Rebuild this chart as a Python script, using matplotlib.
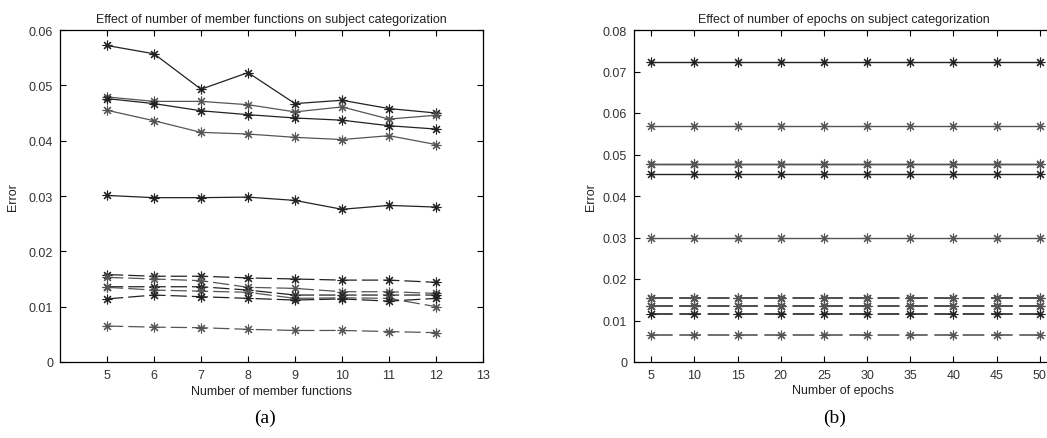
import matplotlib
matplotlib.use('Agg')
import matplotlib.pyplot as plt

plt.rcParams['font.family'] = ['Liberation Sans', 'DejaVu Sans']

# (a) number of member functions
mf_x = [5, 6, 7, 8, 9, 10, 11, 12]
mf_solid = [
  [0.0572, 0.0557, 0.0493, 0.0523, 0.0467, 0.0473, 0.0458, 0.0450],
  [0.0479, 0.0471, 0.0471, 0.0465, 0.0452, 0.0461, 0.0439, 0.0446],
  [0.0476, 0.0467, 0.0454, 0.0447, 0.0441, 0.0437, 0.0427, 0.0421],
  [0.0455, 0.0436, 0.0415, 0.0412, 0.0406, 0.0402, 0.0409, 0.0393],
  [0.0301, 0.0297, 0.0297, 0.0298, 0.0292, 0.0276, 0.0283, 0.0280],
]
mf_dashed = [
  [0.0158, 0.0155, 0.0155, 0.0152, 0.0150, 0.0148, 0.0148, 0.0144],
  [0.0153, 0.0150, 0.0147, 0.0135, 0.0133, 0.0127, 0.0127, 0.0124],
  [0.0136, 0.0136, 0.0136, 0.0130, 0.0121, 0.0121, 0.0121, 0.0121],
  [0.0135, 0.0130, 0.0128, 0.0126, 0.0115, 0.0116, 0.0115, 0.0100],
  [0.0114, 0.0121, 0.0118, 0.0115, 0.0112, 0.0114, 0.0110, 0.0115],
  [0.0065, 0.0063, 0.0062, 0.0059, 0.0057, 0.0057, 0.0055, 0.0053],
]

# (b) number of epochs (error constant over epochs)
ep_x = [5, 10, 15, 20, 25, 30, 35, 40, 45, 50]
ep_solid = [0.0722, 0.0569, 0.0478, 0.0477, 0.0454, 0.0300]
ep_dashed = [0.0155, 0.0154, 0.0136, 0.0134, 0.0115, 0.0066]

W, H = 1047, 439
fig = plt.figure(figsize=(W / 100, H / 100), dpi=100)

def px_axes(x0, x1, ytop, ybot):
  return fig.add_axes([x0 / W, (H - ybot) / H, (x1 - x0) / W, (ybot - ytop) / H])

def style(ax):
  ax.tick_params(direction='in', length=4, width=0.8, top=True, right=True,
                 labelsize=9, labelcolor='#333333', pad=5)
  for s in ax.spines.values():
    s.set_linewidth(0.9)

line_cols = ['#222222', '#555555', '#222222', '#555555', '#222222', '#555555']
dash = (0, (13, 4))
star = (8, 2, 0)   # matlab style asterisk
txt = dict(fontsize=9, color='#222222')

axa = px_axes(60, 483, 31, 363)
for i, ys in enumerate(mf_solid):
  axa.plot(mf_x, ys, '-', color=line_cols[i], lw=0.9, marker=star, ms=7, mew=0.8)
for i, ys in enumerate(mf_dashed):
  axa.plot(mf_x, ys, linestyle=dash, color=line_cols[i], lw=0.9, marker=star, ms=7, mew=0.8)
axa.set_xlim(4, 13)
axa.set_ylim(0, 0.06)
axa.set_xticks(range(5, 14))
axa.set_yticks([0, 0.01, 0.02, 0.03, 0.04, 0.05, 0.06])
axa.set_yticklabels(['0', '0.01', '0.02', '0.03', '0.04', '0.05', '0.06'])
style(axa)
axa.set_title('Effect of number of member functions on subject categorization', pad=6, **txt)
axa.set_xlabel('Number of member functions', labelpad=3, **txt)
axa.set_ylabel('Error', labelpad=7, **txt)

axb = px_axes(634, 1057, 31, 363)
for i, v in enumerate(ep_solid):
  axb.plot(ep_x, [v] * len(ep_x), '-', color=line_cols[i], lw=1.0, marker=star, ms=7, mew=0.8)
for i, v in enumerate(ep_dashed):
  axb.plot(ep_x, [v] * len(ep_x), linestyle=dash, color=line_cols[i], lw=1.2, marker=star, ms=7, mew=0.8)
axb.set_xlim(3, 52)
axb.set_ylim(0, 0.08)
axb.set_xticks(ep_x)
axb.set_yticks([0, 0.01, 0.02, 0.03, 0.04, 0.05, 0.06, 0.07, 0.08])
axb.set_yticklabels(['0', '0.01', '0.02', '0.03', '0.04', '0.05', '0.06', '0.07', '0.08'])
style(axb)
axb.set_title('Effect of number of epochs on subject categorization',
              pad=6, x=(844 - 634) / 423, **txt)
axb.set_xlabel('Number of epochs', **txt)
axb.xaxis.set_label_coords((843 - 634) / 423, -0.065)
axb.set_ylabel('Error', labelpad=4, **txt)

fig.text(265 / W, 1 - 418 / H, '(a)', fontsize=14, family='Liberation Serif', ha='center', va='center')
fig.text(835 / W, 1 - 418 / H, '(b)', fontsize=14, family='Liberation Serif', ha='center', va='center')

fig.savefig('out.png', dpi=100)
